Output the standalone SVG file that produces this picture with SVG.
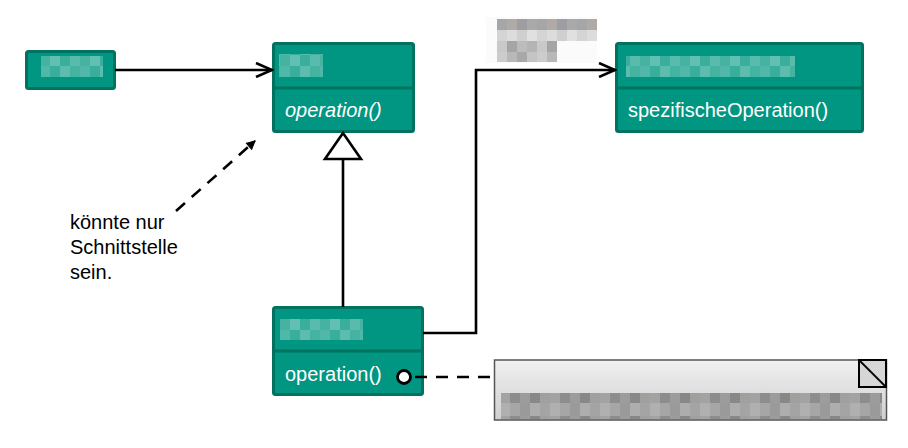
<svg xmlns="http://www.w3.org/2000/svg" width="908" height="448" viewBox="0 0 908 448">
  <defs>
    <style>
      .cls { fill: #009682; stroke: #00725f; stroke-width: 3; }
      .div { stroke: #00725f; stroke-width: 3; }
      .lbl { font-family: "Liberation Sans", Arial, sans-serif; font-size: 20px; fill: #ffffff; }
      .note { font-family: "Liberation Sans", Arial, sans-serif; font-size: 20px; fill: #000000; }
      .line { fill: none; stroke: #000000; stroke-width: 2.6; }
      .dash { fill: none; stroke: #000000; stroke-width: 2.6; stroke-dasharray: 12 9; }
    </style>
    <marker id="open" viewBox="0 0 20 16" refX="18" refY="8" markerWidth="20" markerHeight="16" markerUnits="userSpaceOnUse" orient="auto">
      <path d="M2,1 L18,8 L2,15" fill="none" stroke="#000" stroke-width="2.6"/>
    </marker>
    <marker id="small" viewBox="0 0 10 10" refX="9" refY="5" markerWidth="10" markerHeight="10" markerUnits="userSpaceOnUse" orient="auto">
      <path d="M1,1 L9,5 L1,9 Z" fill="#000" stroke="#000" stroke-width="1"/>
    </marker>
    <linearGradient id="noteGrad" x1="0" y1="0" x2="0" y2="1">
      <stop offset="0" stop-color="#f0f0f0"/>
      <stop offset="1" stop-color="#cfcfcf"/>
    </linearGradient>
    <pattern id="mTeal" width="40" height="22" patternUnits="userSpaceOnUse">
      <rect x="0" y="0" width="10" height="11" fill="#4fb8a8"/>
      <rect x="10" y="0" width="10" height="11" fill="#3aae9c"/>
      <rect x="20" y="0" width="10" height="11" fill="#5cbdae"/>
      <rect x="30" y="0" width="10" height="11" fill="#44b3a2"/>
      <rect x="0" y="11" width="10" height="11" fill="#45b2a2"/>
      <rect x="10" y="11" width="10" height="11" fill="#62c0b2"/>
      <rect x="20" y="11" width="10" height="11" fill="#3aae9c"/>
      <rect x="30" y="11" width="10" height="11" fill="#58bbac"/>
    </pattern>
    <pattern id="mGray" width="50" height="26" patternUnits="userSpaceOnUse">
      <rect x="0" y="0" width="10" height="13" fill="#a3a3a3"/>
      <rect x="10" y="0" width="10" height="13" fill="#8d8d8d"/>
      <rect x="20" y="0" width="10" height="13" fill="#9c9c9c"/>
      <rect x="30" y="0" width="10" height="13" fill="#888888"/>
      <rect x="40" y="0" width="10" height="13" fill="#a0a09c"/>
      <rect x="0" y="13" width="10" height="13" fill="#b0b0b0"/>
      <rect x="10" y="13" width="10" height="13" fill="#a6a6a6"/>
      <rect x="20" y="13" width="10" height="13" fill="#9a9a9a"/>
      <rect x="30" y="13" width="10" height="13" fill="#adadad"/>
      <rect x="40" y="13" width="10" height="13" fill="#a4a4a4"/>
    </pattern>
    <pattern id="mLabel" x="497" y="19" width="40" height="44" patternUnits="userSpaceOnUse">
      <rect x="0" y="0" width="10" height="11" fill="#a6a6a6"/>
      <rect x="10" y="0" width="10" height="11" fill="#b0aaa6"/>
      <rect x="20" y="0" width="10" height="11" fill="#9e9ea2"/>
      <rect x="30" y="0" width="10" height="11" fill="#a9a9a9"/>
      <rect x="0" y="11" width="10" height="11" fill="#d4d4d4"/>
      <rect x="10" y="11" width="10" height="11" fill="#dcdcdc"/>
      <rect x="20" y="11" width="10" height="11" fill="#cfcfcf"/>
      <rect x="30" y="11" width="10" height="11" fill="#e0e0e0"/>
      <rect x="0" y="22" width="10" height="11" fill="#c9c9c9"/>
      <rect x="10" y="22" width="10" height="11" fill="#a5a5a5"/>
      <rect x="20" y="22" width="10" height="11" fill="#bcbcbc"/>
      <rect x="30" y="22" width="10" height="11" fill="#b4b4b4"/>
      <rect x="0" y="33" width="10" height="11" fill="#cccccc"/>
      <rect x="10" y="33" width="10" height="11" fill="#b8b8b8"/>
      <rect x="20" y="33" width="10" height="11" fill="#a8a8a8"/>
      <rect x="30" y="33" width="10" height="11" fill="#c4c4c4"/>
    </pattern>
  </defs>

  <rect x="0" y="0" width="908" height="448" fill="#ffffff"/>

  <g id="client">
    <rect class="cls" x="26.5" y="51.5" width="88" height="37" rx="2"/>
    <rect x="41" y="56" width="62" height="21" fill="url(#mTeal)"/>
  </g>

  <g id="target">
    <rect class="cls" x="273.5" y="43.5" width="140" height="88" rx="2"/>
    <line class="div" x1="273.5" y1="88" x2="413.5" y2="88"/>
    <rect x="279" y="54" width="44" height="23" fill="url(#mTeal)"/>
    <text class="lbl" x="285" y="117" font-style="italic">operation()</text>
  </g>

  <g id="adaptee">
    <rect class="cls" x="616.5" y="43.5" width="246" height="88" rx="2"/>
    <line class="div" x1="616.5" y1="88" x2="862.5" y2="88"/>
    <rect x="626" y="56" width="169" height="21" fill="url(#mTeal)"/>
    <text class="lbl" x="628" y="117">spezifischeOperation()</text>
  </g>

  <g id="adapter">
    <rect class="cls" x="273.5" y="307.5" width="149" height="87" rx="2"/>
    <line class="div" x1="273.5" y1="351" x2="422.5" y2="351"/>
    <rect x="280" y="319" width="83" height="21" fill="url(#mTeal)"/>
    <text class="lbl" x="285" y="381">operation()</text>
  </g>

  <g id="role-label">
    <rect x="486" y="17" width="111" height="46" fill="#fbfbfb"/>
    <rect x="497" y="19" width="100" height="22" fill="url(#mLabel)"/>
    <rect x="497" y="41" width="60" height="21" fill="url(#mLabel)"/>
  </g>

  <g id="comment">
    <text class="note" x="70" y="229">könnte nur</text>
    <text class="note" x="70" y="254">Schnittstelle</text>
    <text class="note" x="70" y="279">sein.</text>
  </g>

  <g id="note">
    <rect x="494.5" y="360" width="392" height="60" fill="url(#noteGrad)" stroke="#555555" stroke-width="1.5"/>
    <rect x="859" y="360" width="27" height="27" fill="#d6d6d6" stroke="#000" stroke-width="2"/>
    <line x1="859" y1="360" x2="886" y2="387" stroke="#000" stroke-width="1.8"/>
    <rect x="501" y="393" width="381" height="26" fill="url(#mGray)"/>
  </g>

  <g id="connectors">
    <line class="line" x1="115" y1="70" x2="272" y2="70" marker-end="url(#open)"/>
    <polyline class="line" points="423,333 476,333 476,70 615,70" marker-end="url(#open)"/>
    <line class="line" x1="343" y1="159" x2="343" y2="307"/>
    <polygon points="343,133 325,159 361,159" fill="#ffffff" stroke="#000" stroke-width="2.6" stroke-linejoin="miter"/>
    <line class="dash" x1="176" y1="211" x2="255" y2="141" marker-end="url(#small)"/>
    <line class="dash" x1="411" y1="377" x2="492" y2="377" stroke-dashoffset="-4"/>
    <circle cx="404" cy="377" r="6.5" fill="#ffffff" stroke="#000" stroke-width="2.8"/>
  </g>
</svg>
